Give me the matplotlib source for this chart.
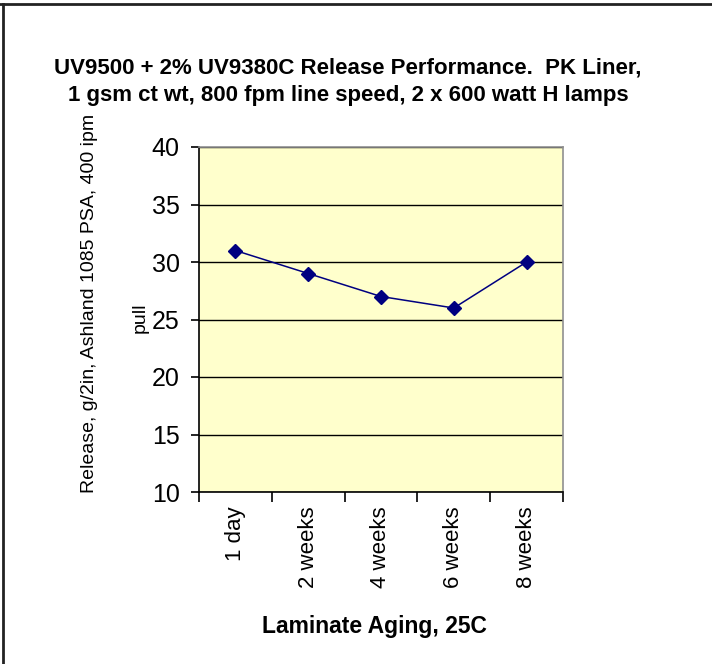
import matplotlib
matplotlib.use("Agg")
import matplotlib.pyplot as plt
from matplotlib.lines import Line2D

plt.rcParams['font.family'] = ['Liberation Sans', 'DejaVu Sans']

categories = ["1 day", "2 weeks", "4 weeks", "6 weeks", "8 weeks"]
release = [31, 29, 27, 26, 30]
yticks = [10, 15, 20, 25, 30, 35, 40]

title = "UV9500 + 2% UV9380C Release Performance.  PK Liner,\n1 gsm ct wt, 800 fpm line speed, 2 x 600 watt H lamps"
ylabel_1 = "Release, g/2in, Ashland 1085 PSA, 400 ipm"
ylabel_2 = "pull"
xlabel = "Laminate Aging, 25C"

W, H = 712, 664
fig = plt.figure(figsize=(W / 100, H / 100), dpi=100)
fig.patch.set_facecolor("white")

# outer chart frame (top and left visible)
fig.add_artist(Line2D([0, 1], [1 - 4 / H, 1 - 4 / H], color="#222222", lw=2, transform=fig.transFigure))
fig.add_artist(Line2D([3 / W, 3 / W], [0, 1 - 4 / H], color="#222222", lw=2, transform=fig.transFigure))

left, right, top, bottom = 199, 563, 147, 492
ax = fig.add_axes([left / W, 1 - bottom / H, (right - left) / W, (bottom - top) / H])
ax.set_facecolor("#FFFFCC")

x = list(range(len(categories)))
ax.plot(x, release, color="#000080", lw=1.1, marker="D", markersize=7,
        markerfacecolor="#000080", markeredgecolor="#000080", zorder=3)

ax.set_xlim(-0.5, len(categories) - 0.5)
ax.set_ylim(10, 40)
ax.set_yticks(yticks)
ax.set_yticklabels([str(v) for v in yticks], fontsize=18)
ax.yaxis.grid(True, color="black", lw=1)
ax.set_axisbelow(True)

ax.set_xticks([i - 0.5 for i in range(len(categories) + 1)])
ax.set_xticklabels([])
ax.set_xticks(x, minor=True)
ax.set_xticklabels(categories, minor=True, rotation=90, fontsize=16, va="top", ha="center")
ax.tick_params(axis="x", which="major", direction="out", length=7, width=1.2, color="black")
ax.tick_params(axis="x", which="minor", length=0, pad=10)
ax.tick_params(axis="y", direction="out", length=6, width=1.2, color="black", pad=8)

for s in ["left", "bottom"]:
    ax.spines[s].set_color("black")
    ax.spines[s].set_linewidth(1.2)
for s in ["top", "right"]:
    ax.spines[s].set_color("#909090")
    ax.spines[s].set_linewidth(1.2)

fig.text(348 / W, 1 - 82 / H, title, ha="center", va="center", fontsize=16,
         fontweight="bold", linespacing=1.42)
fig.text(90 / W, 1 - 303 / H, ylabel_1, rotation=90, ha="center", va="center", fontsize=14)
fig.text(140 / W, 1 - 318 / H, ylabel_2, rotation=90, ha="center", va="center", fontsize=14)
fig.text(374 / W, 1 - 627 / H, xlabel, ha="center", va="center", fontsize=16.5, fontweight="bold")

fig.savefig("out.png", dpi=100)
